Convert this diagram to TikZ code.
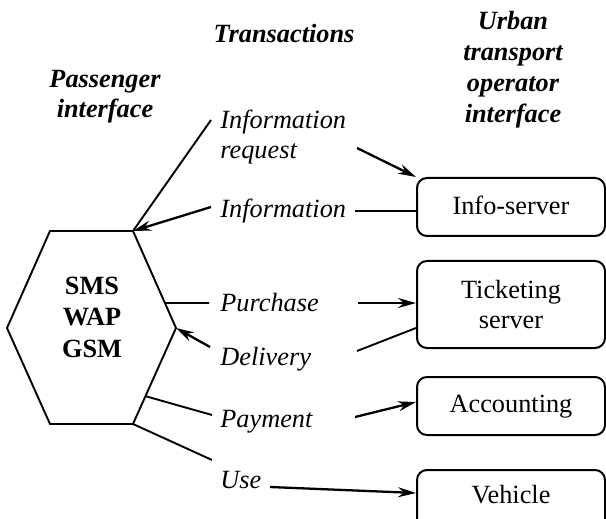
\documentclass[tikz,border=0pt]{standalone}
\usepackage{fontspec}
\setmainfont{Liberation Serif}
\usetikzlibrary{arrows.meta,calc}
\begin{document}
\begin{tikzpicture}[x=0.5pt,y=-0.5pt,
  every node/.style={inner sep=0pt, font=\fontsize{13.15}{15}\selectfont},
  lbl/.style={font=\fontsize{13.15}{15}\selectfont\itshape},
  hdr/.style={font=\fontsize{13.15}{15}\selectfont\bfseries\itshape, align=center},
  boxbase/.style={draw, line width=1pt, rounded corners=5pt, minimum width=94pt, align=center},
  box/.style={boxbase, text height=9pt, text depth=3pt},
  link/.style={line width=0.95pt},
  arr/.style={line width=1.15pt, -{Stealth[length=9pt,width=5pt,inset=3pt]}},
]
\useasboundingbox (0,0) rectangle (606,519);

% headers
\node[hdr, anchor=base] (trans) at (284,43) {Transactions};
\node[hdr] (pass) at (105,97) {Passenger\\interface};
\node[hdr, font=\fontsize{13.15}{15.5}\selectfont\bfseries\itshape] (urban) at (513,70) {Urban\\transport\\operator\\interface};

% transaction labels
\node[lbl, align=left, anchor=west] (ireq) at (220,137) {Information\\request};
\node[lbl, anchor=base west] (info) at (220,218) {Information};
\node[lbl, anchor=base west] (pur) at (220,312) {Purchase};
\node[lbl, anchor=base west] (del) at (220,365) {Delivery};
\node[lbl, anchor=base west] (pay) at (220,427) {Payment};
\node[lbl, anchor=base west] (use) at (220,488) {Use};

% hexagon
\coordinate (hA) at (50,231);
\coordinate (hB) at (133,231);
\coordinate (hC) at (176,328);
\coordinate (hD) at (133,424);
\coordinate (hE) at (50,424);
\coordinate (hF) at (7,328);
\draw[link] (hA) -- (hB) -- (hC) -- (hD) -- (hE) -- (hF) -- cycle;
\node[font=\fontsize{13.15}{15.75}\selectfont\bfseries, align=center] (sys) at (92,317) {SMS\\WAP\\GSM};

% operator boxes
\node[box, minimum height=29pt, text depth=1pt] (infosrv) at (511,207) {Info-server};
\node[boxbase, minimum height=43.5pt] (ticket) at (511,304.5) {Ticketing\\server};
\node[box, minimum height=29pt] (acc) at (511,406) {Accounting};
\node[box, minimum height=31pt, text depth=7pt] (veh) at (511,501) {Vehicle};

% connectors
\coordinate (ireqA) at (211,120);
\draw[link] (hB) -- (ireqA);
\coordinate (infoA) at (211,207);
\draw[arr] (infoA) -- (hB);
\coordinate (ireqB) at (357,148);
\draw[arr] (ireqB) -- (infosrv.north west);
\coordinate (infoB) at (355,211);
\draw[link] (infoB) -- (infoB -| infosrv.west);

\coordinate (purA) at ($(hB)!0.742!(hC)$);
\coordinate (purB) at (209,303);
\draw[link] (purA) -- (purB);
\coordinate (purC) at (358,303);
\draw[arr] (purC) -- (purC -| ticket.west);

\coordinate (delA) at (210,347);
\draw[arr] (delA) -- (hC);
\coordinate (delB) at (357,351);
\draw[link] (delB) -- ([yshift=-11.75pt]ticket.west);

\coordinate (payA) at ($(hC)!0.71!(hD)$);
\coordinate (payB) at (212,415);
\draw[link] (payA) -- (payB);
\coordinate (payC) at (355,417);
\draw[arr] (payC) -- ([yshift=2pt]acc.west);

\coordinate (useA) at (212,460);
\draw[link] (hD) -- (useA);
\coordinate (useB) at (270,487);
\draw[arr] (useB) -- ([yshift=4pt]veh.west);
\end{tikzpicture}
\end{document}
